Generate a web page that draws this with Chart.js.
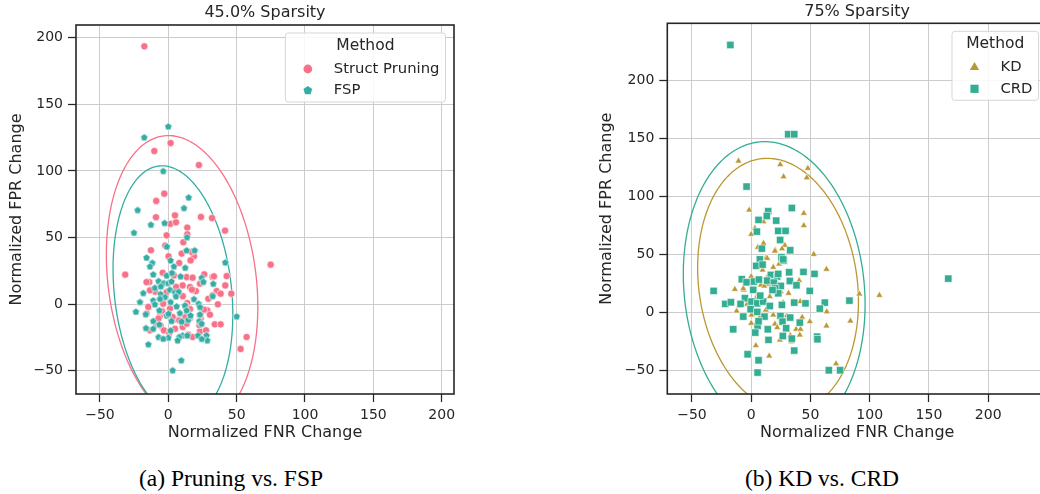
<!DOCTYPE html>
<html>
<head>
<meta charset="utf-8">
<script src="https://cdn.jsdelivr.net/npm/chart.js@4.4.1/dist/chart.umd.min.js"></script>
<style>
  html, body { margin: 0; padding: 0; background: #fff; }
  body { width: 1040px; height: 494px; overflow: hidden; position: relative; }
  .panel { position: absolute; top: 0; }
  .caption { position: absolute; top: 465px; line-height: 26px; font-family: "Liberation Serif", serif; font-size: 23.5px; color: #000; white-space: nowrap; transform: translateX(-50%); }
</style>
</head>
<body>
<div class="panel" style="left:0px"><canvas id="chartA" width="470" height="450"></canvas></div>
<div class="panel" style="left:590px"><canvas id="chartB" width="470" height="450"></canvas></div>
<div class="caption" style="left:231px">(a) Pruning vs. FSP</div>
<div class="caption" style="left:822px">(b) KD vs. CRD</div>
<script>
// ---- data ----
const tickValues = [-50, 0, 50, 100, 150, 200];

// (a) 45.0% sparsity : [FNR change, FPR change]
const prunePts = [[-17.5,193.5],[1.7,120.9],[-10.2,114.9],[22.4,104.4],[-2.9,82.9],[-8.8,77.4],[-9,65.2],[1.5,60.2],[5.6,61.4],[4.9,66.6],[23.9,65.4],[32,64.6],[41.5,55.1],[13.9,57.4],[13.9,52.4],[-1.2,51.6],[11,46.4],[-2.2,43.9],[-12.7,40.4],[0.2,35.9],[9.8,37.9],[18.8,35.9],[17,39.2],[8,30.8],[16.3,32.8],[-31.5,22.1],[74.9,29.6],[-4.1,23.5],[4.1,21.5],[13.4,20.3],[17.8,19.8],[26.3,22.3],[32.4,20.3],[33.4,20.8],[42.7,21],[-13.9,16.5],[-15.9,16.5],[10.5,14],[15.9,12.8],[23.2,15.3],[41.7,14],[-9.5,9.3],[-13.4,10.3],[-1.2,9],[20.2,9.8],[35.4,9.8],[38.3,7.8],[46.1,7.8],[29.3,4],[32.4,6.6],[-3.7,0.3],[13.9,0.8],[36.3,-0.2],[15.9,-3.7],[28.5,-4.7],[26.1,-4.2],[30.5,-8],[-6.1,-9],[-15.9,-7.2],[4.9,-11.5],[8,-12.2],[15.9,-10.7],[23.7,-11],[34,-15.2],[38.3,-15.2],[-8.5,-15.2],[-5.6,-16.2],[-13.4,-19.7],[-3.2,-19.7],[10.5,-17.2],[4.9,-18.5],[23.2,-20.5],[27.6,-19.7],[0.7,-21.7],[14.6,-23],[17.8,-24.7],[57.3,-24.7],[52.9,-33.7],[17.3,10.8],[6.6,10.3],[3.2,-9.7],[13.4,-14.7],[5.7,12.9],[10.6,5.9],[12.7,-1.3],[1.3,-3.3],[-4.6,-5.3],[12.5,-9.6],[-7.2,-10.9],[-14.6,-2.1],[22.8,-15.9],[23.2,-8.4]];
const fspPts = [[0,133.4],[-17.6,125.2],[-3.7,99.9],[14.9,80.1],[11.5,72.1],[-22.4,70.6],[-12.7,59.6],[-2.7,60.9],[-25.1,53.6],[13.7,50.2],[-1,43.2],[13.4,40.4],[19.3,40.4],[-15.9,34.9],[-11.7,31],[-13.4,28.3],[1.7,32.8],[4.1,28.3],[12.4,27.3],[41.7,31.3],[-11,22.3],[-1.2,21.5],[2.7,23.5],[9,20.8],[24.4,19.8],[-7.1,17.3],[-3.2,15.8],[0,15.8],[2.4,17],[32.9,15.3],[-9.8,12.3],[-5.4,13.3],[1.2,10.8],[4.9,9],[7.6,9.3],[-18.3,8.3],[-5.6,7.6],[-2.4,5.3],[-11,2.8],[-6.1,4],[1.7,1.6],[18.8,3.8],[22.2,0.3],[-20.7,1.6],[-9.8,-0.2],[6.1,-1.7],[12.2,-1],[23.2,-2.2],[8.5,-6.7],[-23.7,-5.7],[-6.6,-4.7],[-1.2,-8.5],[0.2,-7.2],[50,-9.2],[-11,-12.7],[2.4,-12.7],[9.8,-13],[14.6,-11.7],[22.7,-12.7],[-16.3,-18],[-6.6,-15.2],[1.7,-19.7],[10.5,-23.5],[-7.1,-24.7],[0,-25.2],[8,-24.7],[13.9,-23.5],[21.7,-23.5],[28,-23.5],[28.5,-27.2],[6.8,-27.2],[-14.6,-30.2],[9.5,-42.2],[3.2,-49.7],[-3.7,-26],[-11,-18.5],[5.6,5.8],[13.4,-4.7],[16.3,-8.5],[23.2,-7.7],[24.4,-14.7],[-16.5,-7.6],[25.7,16.7],[32.5,6],[24.5,-26.1]];

// (b) 75% sparsity
const kdPts = [[-10.7,130.7],[24.5,127.6],[27.3,117.2],[47.8,124.4],[46.9,116.3],[-1.7,88.4],[44.4,85.5],[44.4,74.9],[10.4,78.3],[3.1,72.6],[0,67.4],[10.4,59.6],[5.6,56.2],[28.4,57.9],[20.2,53.9],[52.8,50.1],[12.7,47.3],[13.5,46.7],[20,53],[23.6,41.8],[18.6,38.9],[63.5,37.2],[0,30.9],[-8.7,28.9],[-6.2,19.4],[-13.8,19.9],[8.2,23.7],[13.8,24.3],[25,17.9],[31.5,16.5],[4.8,14.2],[40.5,27.4],[41.3,9.3],[91.3,15.9],[108.2,14.7],[-12.3,1.2],[0.3,-2.2],[12.4,2.1],[18.6,-2.2],[43,-4.2],[49.5,-8],[63.8,0.6],[83.7,-7.4],[20,-10],[37.9,-14.6],[41.6,-14.6],[41,-19.5],[63.5,-11.7],[0,-9.4],[24.2,-23.8],[34,-25.3],[3.9,-28.7],[15.2,-37.6],[71.6,-44.3],[35.4,9.3],[7.6,-3.7],[4.5,-15.2],[15.7,13.6],[27,8.4],[-6.7,20.7],[9.6,36.6],[13.5,30.3],[11,22.8],[21.9,25.1],[26,55],[-3.5,7],[-10,5.5],[3.9,11.3],[30,-3],[33,-20],[22,-13]];
const crdPts = [[-17.6,230.9],[31.2,153.8],[36.3,153.8],[-3.9,108.6],[34.3,90.1],[14.3,87.3],[13.2,83.2],[6.2,79.8],[21.1,79.2],[4.8,69.7],[22.8,70.3],[29,70.3],[24.4,62.5],[9,55],[32.9,53.6],[166.3,29.1],[7.3,45.8],[4.2,40.1],[9.6,41.2],[27.5,44.7],[25.6,47.6],[16.6,32.3],[21.9,30.9],[22.8,33.2],[32,34.6],[44.1,34.9],[53.4,33.2],[-7.9,28.6],[-3.9,26],[2.3,26.6],[6.5,28.3],[13.5,27.4],[19.1,25.7],[25,22.8],[32.6,27.1],[38.2,23.4],[-31.7,18.5],[1.7,19.4],[20.2,20.8],[22.8,16.5],[49.4,18.5],[-5.3,12.2],[0.3,9.3],[5.1,7.8],[10.1,9.3],[15.7,5.5],[36.3,8.4],[45.8,7.8],[62.1,8.4],[82.9,10.1],[-21.9,7.3],[-17.1,8.7],[-9,7.3],[-0.5,2.7],[5.1,0.4],[25.9,6.4],[57.9,3.2],[-6.7,-3.7],[11.2,-3.7],[24.7,-3.1],[26.4,-8],[32.9,-4.5],[41,-8.9],[5.4,-11.7],[29.5,-13.7],[-15.2,-14.6],[3.4,-17.5],[14,-14.6],[26.7,-20.4],[34.3,-22.7],[55.6,-21],[55.9,-23.2],[14.6,-23.8],[36.3,-33],[-3,-36.2],[6.2,-41.4],[5.4,-52],[65.5,-50],[75,-50],[27,45.8],[7.6,14.4],[6.2,-7.7],[18,19.3]];

// confidence ellipses: [centre x, centre y, half width, half height, tilt]
const pruneEllipse = [10.1, 17.5, 55.4, 109, -0.18];
const fspEllipse = [3.4, 9.3, 43.8, 94.5, -0.18];
const kdEllipse = [22.65, 23.8, 67.85, 109.2, -0.135];
const crdEllipse = [19.4, 20, 76.7, 127.4, -0.103];

const FONT = '"DejaVu Sans", sans-serif';
const TXT = '#262626';
const GRID = '#cccccc';

function fmt(v) { return v < 0 ? '\u2212' + Math.abs(v) : String(v); }

function drawMarker(ctx, shape, x, y, r, color) {
    ctx.beginPath();
    if (shape === 'circle') {
        ctx.arc(x, y, r, 0, Math.PI * 2);
    } else if (shape === 'rect') {
        const h = r * Math.SQRT1_2;
        ctx.rect(x - h, y - h, 2 * h, 2 * h);
    } else {
        const n = shape === 'triangle' ? 3 : 5;
        for (let i = 0; i < n; i++) {
            const a = -Math.PI / 2 + i * 2 * Math.PI / n;
            ctx.lineTo(x + r * Math.cos(a), y + r * Math.sin(a));
        }
        ctx.closePath();
    }
    ctx.fillStyle = color;
    ctx.fill();
}

function pentagonImage(r, color) {
    const c = document.createElement('canvas');
    const s = Math.ceil(2 * r + 3);
    c.width = c.height = s;
    const g = c.getContext('2d');
    drawMarker(g, 'pentagon', s / 2, s / 2 + 0.3, r, color);
    g.strokeStyle = '#ffffff';
    g.lineWidth = 0.7;
    g.stroke();
    return c;
}

// ellipses, frame and the legend box
const extras = {
    id: 'extras',
    beforeDatasetsDraw(chart, args, opts) {
        const {ctx, chartArea: a, scales: {x, y}} = chart;
        ctx.save();
        ctx.beginPath();
        ctx.rect(a.left, a.top, a.right - a.left, a.bottom - a.top);
        ctx.clip();
        opts.ellipses.forEach(e => {
            const [cx, cy, sx, sy, rho] = e.params;
            const q = Math.sqrt(1 - rho * rho);
            ctx.beginPath();
            for (let i = 0; i <= 240; i++) {
                const t = i / 240 * Math.PI * 2;
                const px = x.getPixelForValue(cx + sx * Math.cos(t));
                const py = y.getPixelForValue(cy + sy * (rho * Math.cos(t) + q * Math.sin(t)));
                if (i === 0) ctx.moveTo(px, py); else ctx.lineTo(px, py);
            }
            ctx.strokeStyle = e.color;
            ctx.lineWidth = 1.3;
            ctx.stroke();
        });
        ctx.restore();
    },
    afterDatasetsDraw(chart) {
        const {ctx, chartArea: a} = chart;
        ctx.save();
        ctx.strokeStyle = TXT;
        ctx.lineWidth = 1.6;
        ctx.strokeRect(a.left, a.top, a.right - a.left, a.bottom - a.top);
        ctx.restore();
    },
    afterDraw(chart, args, opts) {
        const {ctx, chartArea: a} = chart;
        const sets = chart.data.datasets;
        ctx.save();
        ctx.font = '14.8px ' + FONT;
        const textW = Math.max(...sets.map(d => ctx.measureText(d.label).width));
        const w = 48.5 + textW + 6;
        const h = 69;
        const left = a.right - 8.5 - w, top = a.top + 8;
        ctx.beginPath();
        ctx.roundRect(left, top, w, h, 3);
        ctx.fillStyle = 'rgba(255,255,255,0.85)';
        ctx.fill();
        ctx.strokeStyle = '#d6d6d6';
        ctx.lineWidth = 1;
        ctx.stroke();
        ctx.fillStyle = TXT;
        ctx.textBaseline = 'middle';
        ctx.textAlign = 'center';
        ctx.font = '15.5px ' + FONT;
        ctx.fillText(opts.title, left + w / 2, top + 12.5);
        ctx.textAlign = 'left';
        ctx.font = '14.8px ' + FONT;
        sets.forEach((d, i) => {
            const yy = top + 36 + i * 21.5;
            drawMarker(ctx, d.shape, left + 22.5, yy, d.legendR, d.color);
            ctx.fillStyle = TXT;
            ctx.fillText(d.label, left + 48.5, yy);
        });
        ctx.restore();
    }
};

function makeChart(id, cfg) {
    return new Chart(document.getElementById(id), {
        type: 'scatter',
        data: {
            datasets: cfg.series.map(s => ({
                label: s.label,
                data: s.pts.map(([x, y]) => ({x, y})),
                pointStyle: s.shape === 'pentagon' ? pentagonImage(s.r, s.color) : s.shape,
                pointRadius: s.r,
                backgroundColor: s.color,
                borderColor: '#ffffff',
                borderWidth: 0.6,
                order: s.order,
                shape: s.shape,
                color: s.color,
                legendR: s.legendR
            }))
        },
        options: {
            responsive: false,
            animation: false,
            events: [],
            layout: {padding: {left: 0, right: cfg.padRight, top: 0, bottom: 0}},
            plugins: {
                legend: {display: false},
                tooltip: {enabled: false},
                title: {
                    display: true, text: cfg.title, fullSize: false, color: TXT,
                    font: {family: FONT, size: 16, weight: 'normal'},
                    padding: {top: cfg.titleTop, bottom: cfg.titleBottom}
                },
                extras: {title: 'Method', ellipses: cfg.ellipses}
            },
            scales: {
                x: {
                    type: 'linear', min: cfg.xMin, max: cfg.xMax,
                    afterFit(s) { s.height = 56; },
                    afterBuildTicks(s) { s.ticks = tickValues.map(v => ({value: v})); },
                    grid: {color: GRID, lineWidth: 1, tickLength: 8, tickColor: TXT, tickWidth: 1.25},
                    border: {display: false},
                    ticks: {color: TXT, font: {family: FONT, size: 14}, padding: 5, maxRotation: 0, callback: v => fmt(v)},
                    title: {display: true, text: 'Normalized FNR Change', color: TXT, font: {family: FONT, size: 16}, padding: {top: 0, bottom: 7.1}}
                },
                y: {
                    type: 'linear', min: cfg.yMin, max: cfg.yMax,
                    afterFit(s) { s.width = cfg.yWidth; },
                    afterBuildTicks(s) { s.ticks = tickValues.map(v => ({value: v})); },
                    grid: {color: GRID, lineWidth: 1, tickLength: 8, tickColor: TXT, tickWidth: 1.25},
                    border: {display: false},
                    ticks: {color: TXT, font: {family: FONT, size: 14}, padding: 5, callback: v => fmt(v)},
                    title: {display: true, text: 'Normalized FPR Change', color: TXT, font: {family: FONT, size: 16}, padding: {top: cfg.yTitlePad, bottom: 0}}
                }
            }
        },
        plugins: [extras]
    });
}

makeChart('chartA', {
    title: '45.0% Sparsity',
    xMin: -67.5, xMax: 209, yMin: -67.5, yMax: 209.5,
    yWidth: 76, padRight: 16, titleTop: 3.5, titleBottom: 2.3, yTitlePad: 7,
    series: [
        {label: 'Struct Pruning', pts: prunePts, color: '#f77189', shape: 'circle', r: 3.6, legendR: 4.4, order: 1},
        {label: 'FSP', pts: fspPts, color: '#36ada4', shape: 'pentagon', r: 3.9, legendR: 4.6, order: 0}
    ],
    ellipses: [{params: pruneEllipse, color: '#f77189'}, {params: fspEllipse, color: '#36ada4'}]
});

makeChart('chartB', {
    title: '75% Sparsity',
    xMin: -70.8, xMax: 249.6, yMin: -70.5, yMax: 249.6,
    yWidth: 77.3, padRight: 13, titleTop: 2.5, titleBottom: 1.6, yTitlePad: 7.6,
    series: [
        {label: 'KD', pts: kdPts, color: '#bb9832', shape: 'triangle', r: 4, legendR: 5.4, order: 1},
        {label: 'CRD', pts: crdPts, color: '#33ae93', shape: 'rect', r: 5.2, legendR: 5.8, order: 0}
    ],
    ellipses: [{params: kdEllipse, color: '#bb9832'}, {params: crdEllipse, color: '#33ae93'}]
});
</script>
</body>
</html>
